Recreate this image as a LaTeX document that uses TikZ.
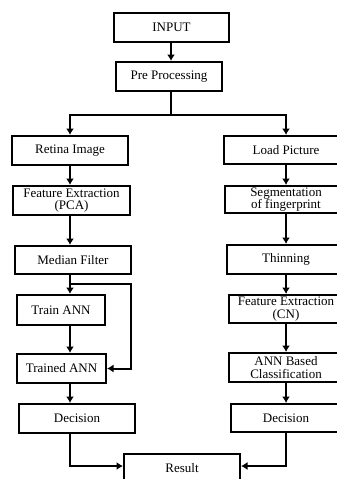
\documentclass[tikz,border=0pt]{standalone}
\usepackage{fontspec}
\setmainfont{Liberation Serif}
\usetikzlibrary{arrows.meta,positioning}

\begin{document}
\begin{tikzpicture}[x=1pt, y=-1pt,
    box/.style={draw, line width=2pt, fill=white, inner sep=1pt, align=center,
                font=\fontsize{13}{12.5}\selectfont, minimum height=#1},
    box/.default=29pt,
    link/.style={line width=2pt},
    arr/.style={link, -{Latex[length=6.5pt, width=8pt]}},
]
  \clip (0,0) rectangle (337,479);
  \fill[white] (0,0) rectangle (337,479);

  \coordinate (colL) at (70,0);
  \coordinate (colR) at (286,0);
  \coordinate (split) at (171,115);
  \coordinate (fb) at (131,284);

  \node[box, minimum width=115pt] (input) at (171.5,27.5) {INPUT};
  \node[box, minimum width=106pt] (pre) at (169,76.5) {Pre Processing};

  % left branch
  \node[box, minimum width=116pt] (retina)  at (70,150.5)  {Retina Image};
  \node[box, minimum width=117pt] (pca)     at (71.5,200.5) {Feature Extraction\\(PCA)};
  \node[box=28pt, minimum width=116pt] (median) at (73,260) {Median Filter};
  \node[box=30pt, minimum width=88pt] (train) at (61,310) {Train ANN};
  \node[box, minimum width=89pt] (trained)  at (61.5,368.5) {Trained ANN};
  \node[box, minimum width=116pt] (decL)    at (77,418.5) {Decision};

  % right branch
  \node[box=28pt, minimum width=124pt] (load) at (286,150) {Load Picture};
  \node[box=27pt, minimum width=122pt] (seg)  at (286,199.5) {Segmentation\\of fingerprint};
  \node[box, minimum width=118pt] (thin)      at (286,259.5) {Thinning};
  \node[box=28pt, minimum width=114pt] (fecn) at (286,309) {Feature Extraction\\(CN)};
  \node[box, minimum width=114pt] (annc)      at (286,367.5) {ANN Based\\Classification};
  \node[box=28pt, minimum width=110pt] (decR) at (286,418) {Decision};

  \node[box=28pt, minimum width=116pt] (result) at (182,468) {Result};

  \draw[arr] (input.south -| split) -- (pre.north -| split);
  \draw[link] (pre.south -| split) -- (split);
  \draw[arr] (split) -| (retina.north -| colL);
  \draw[arr] (split) -| (load.north -| colR);

  \draw[arr] (retina.south -| colL) -- (pca.north -| colL);
  \draw[arr] (pca.south -| colL) -- (median.north -| colL);
  \draw[arr] (median.south -| colL) -- (train.north -| colL);
  \draw[arr] (train.south -| colL) -- (trained.north -| colL);
  \draw[arr] (trained.south -| colL) -- (decL.north -| colL);
  \draw[arr] (fb -| colL) -- (fb) |- (trained.east);

  \draw[arr] (load.south -| colR) -- (seg.north -| colR);
  \draw[arr] (seg.south -| colR) -- (thin.north -| colR);
  \draw[arr] (thin.south -| colR) -- (fecn.north -| colR);
  \draw[arr] (fecn.south -| colR) -- (annc.north -| colR);
  \draw[arr] (annc.south -| colR) -- (decR.north -| colR);

  \draw[arr] (decL.south -| colL) |- ([yshift=2pt]result.west);
  \draw[arr] (decR.south -| colR) |- ([yshift=2pt]result.east);
\end{tikzpicture}
\end{document}
